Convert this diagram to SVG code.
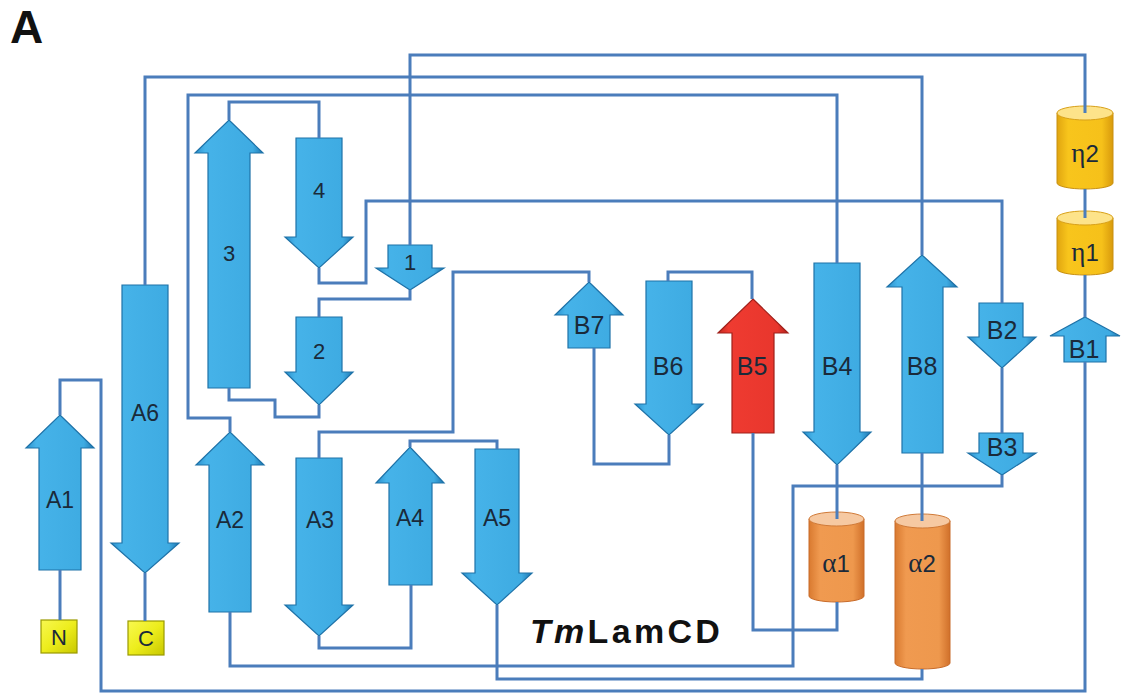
<svg xmlns="http://www.w3.org/2000/svg" width="1124" height="697" viewBox="0 0 1124 697">
<defs>
<linearGradient id="gb" x1="0" y1="0" x2="1" y2="0">
<stop offset="0" stop-color="#2a8fcb"/><stop offset="0.15" stop-color="#46b3e9"/><stop offset="0.85" stop-color="#3eabe2"/><stop offset="1" stop-color="#1f77b0"/>
</linearGradient>
<linearGradient id="gr" x1="0" y1="0" x2="1" y2="0">
<stop offset="0" stop-color="#c42820"/><stop offset="0.15" stop-color="#ef3b31"/><stop offset="0.85" stop-color="#e8362d"/><stop offset="1" stop-color="#b3241d"/>
</linearGradient>
<linearGradient id="go" x1="0" y1="0" x2="1" y2="0">
<stop offset="0" stop-color="#d97a30"/><stop offset="0.2" stop-color="#f09a50"/><stop offset="0.8" stop-color="#ee984d"/><stop offset="1" stop-color="#d0702a"/>
</linearGradient>
<linearGradient id="gy" x1="0" y1="0" x2="1" y2="0">
<stop offset="0" stop-color="#e0a510"/><stop offset="0.2" stop-color="#f8c51c"/><stop offset="0.8" stop-color="#f6c11a"/><stop offset="1" stop-color="#d89a0c"/>
</linearGradient>
<linearGradient id="gn" x1="0" y1="0" x2="1" y2="1">
<stop offset="0" stop-color="#f8f850"/><stop offset="0.5" stop-color="#eded1c"/><stop offset="1" stop-color="#c8c800"/>
</linearGradient>
</defs>
<style>
.ln{fill:none;stroke:#4b7dbb;stroke-width:3;stroke-linejoin:miter}
.sb{fill:url(#gb);stroke:#1e72a8;stroke-width:1.2}
.sr{fill:url(#gr);stroke:#a0201a;stroke-width:1.2}
.co{fill:url(#go);stroke:#c86a28;stroke-width:1}
.cot{fill:#f6c9a2;stroke:#d07a38;stroke-width:1}
.cy{fill:url(#gy);stroke:#c89010;stroke-width:1}
.cyt{fill:#fde38a;stroke:#d8a018;stroke-width:1}
.bx{fill:url(#gn);stroke:#9a9a00;stroke-width:1.2}
.lb{font-family:"Liberation Sans",Arial,sans-serif;font-size:23px;fill:#1a2a3a;text-anchor:middle}
.lbb{font-family:"Liberation Sans",Arial,sans-serif;font-size:25px;fill:#1a2a3a;text-anchor:middle}
.ld{font-family:"Liberation Sans",Arial,sans-serif;font-size:22px;fill:#1a2a3a;text-anchor:middle}
.lg{font-family:"Liberation Sans",Arial,sans-serif;font-size:24px;fill:#1a2a3a;text-anchor:middle}
.gk{font-family:"Liberation Serif","DejaVu Serif",serif;font-size:27px}
</style>

<g id="nodes">
<g id="A1"><polygon class="sb" points="60,415 94,448 81,448 81,570 39,570 39,448 26,448"/><text class="lb" x="60" y="508">A1</text></g>
<g id="s3"><polygon class="sb" points="229,120 263,153 250,153 250,388 208,388 208,153 195,153"/><text class="ld" x="229" y="261">3</text></g>
<g id="A2"><polygon class="sb" points="230,432 264,465 251,465 251,612 209,612 209,465 196,465"/><text class="lb" x="230" y="528">A2</text></g>
<g id="A4"><polygon class="sb" points="410,447 444,483 432,483 432,585 389,585 389,483 376,483"/><text class="lb" x="410" y="526">A4</text></g>
<g id="B7"><polygon class="sb" points="589,282 623,315 610,315 610,348 568,348 568,315 555,315"/><text class="lbb" x="589" y="334">B7</text></g>
<g id="B5"><polygon class="sr" points="753,299 788,333 774,333 774,433 732,433 732,333 718,333"/><text class="lbb" x="752" y="375">B5</text></g>
<g id="B8"><polygon class="sb" points="922,255 957,287 943,287 943,453 902,453 902,287 887,287"/><text class="lbb" x="922" y="375">B8</text></g>
<g id="B1"><polygon class="sb" points="1085,317 1120,336 1106,336 1106,362 1064,362 1064,336 1050,336"/><text class="lbb" x="1084" y="358">B1</text></g>

<g id="A6"><polygon class="sb" points="122,285 168,285 168,543 179,543 145,573 111,543 122,543"/><text class="lb" x="145" y="421">A6</text></g>
<g id="s4"><polygon class="sb" points="296,138 342,138 342,237 353,237 319,268 285,237 296,237"/><text class="ld" x="319" y="198">4</text></g>
<g id="s1"><polygon class="sb" points="388,245 432,245 432,268 444,268 410,290 376,268 388,268"/><text class="ld" x="410" y="270">1</text></g>
<g id="s2"><polygon class="sb" points="296,317 342,317 342,372 353,372 319,405 285,372 296,372"/><text class="ld" x="319" y="359">2</text></g>
<g id="A3"><polygon class="sb" points="296,458 342,458 342,605 353,605 319,636 285,605 296,605"/><text class="lb" x="320" y="528">A3</text></g>
<g id="A5"><polygon class="sb" points="475,449 519,449 519,573 532,573 497,605 462,573 475,573"/><text class="lb" x="497" y="526">A5</text></g>
<g id="B6"><polygon class="sb" points="646,281 692,281 692,404 703,404 669,435 635,404 646,404"/><text class="lbb" x="668" y="375">B6</text></g>
<g id="B4"><polygon class="sb" points="814,263 860,263 860,432 871,432 837,465 803,432 814,432"/><text class="lbb" x="837" y="375">B4</text></g>
<g id="B2"><polygon class="sb" points="979,303 1023,303 1023,337 1036,337 1002,368 968,337 979,337"/><text class="lbb" x="1002" y="339">B2</text></g>
<g id="B3"><polygon class="sb" points="979,433 1023,433 1023,453 1036,453 1002,475 968,453 979,453"/><text class="lbb" x="1002" y="456">B3</text></g>

<g id="eta2"><path class="cy" d="M1057,113 L1057,183 A28,6 0 0 0 1113,183 L1113,113 Z"/><ellipse class="cyt" cx="1085" cy="113" rx="28" ry="7"/><text class="lg" x="1085" y="162"><tspan class="gk">η</tspan>2</text></g>
<g id="eta1"><path class="cy" d="M1057,218 L1057,269 A28,6 0 0 0 1113,269 L1113,218 Z"/><ellipse class="cyt" cx="1085" cy="218" rx="28" ry="7"/><text class="lg" x="1085" y="261"><tspan class="gk">η</tspan>1</text></g>
<g id="alpha1"><path class="co" d="M809,519 L809,596 A27.5,6 0 0 0 864,596 L864,519 Z"/><ellipse class="cot" cx="836.5" cy="519" rx="27.5" ry="7"/><text class="lg" x="836" y="572"><tspan class="gk">α</tspan>1</text></g>
<g id="alpha2"><path class="co" d="M895,521 L895,663 A27.5,6 0 0 0 950,663 L950,521 Z"/><ellipse class="cot" cx="922.5" cy="521" rx="27.5" ry="7"/><text class="lg" x="922" y="572"><tspan class="gk">α</tspan>2</text></g>

<g id="N"><rect class="bx" x="41" y="620" width="36" height="33"/><text class="ld" x="59" y="645">N</text></g>
<g id="C"><rect class="bx" x="128" y="621" width="36" height="34"/><text class="ld" x="146" y="646">C</text></g>
</g>

<g id="connectors">
<polyline class="ln" points="60,415 60,380 101,380 101,691 1085,691 1085,362"/>
<polyline class="ln" points="60,570 60,620"/>
<polyline class="ln" points="145,573 145,621"/>
<polyline class="ln" points="145,285 145,77 922,77 922,255"/>
<polyline class="ln" points="230,432 230,418 188,418 188,95 837,95 837,263"/>
<polyline class="ln" points="230,612 230,666 793,666 793,486 1002,486 1002,475"/>
<polyline class="ln" points="229,120 229,102 319,102 319,138"/>
<polyline class="ln" points="229,388 229,400 275,400 275,417 319,417 319,405"/>
<polyline class="ln" points="319,268 319,283 366,283 366,201 1002,201 1002,303"/>
<polyline class="ln" points="410,245 410,55 1085,55 1085,113"/>
<polyline class="ln" points="410,290 410,299 319,299 319,317"/>
<polyline class="ln" points="319,458 319,432 453,432 453,272 589,272 589,282"/>
<polyline class="ln" points="319,636 319,648 411,648 411,585"/>
<polyline class="ln" points="410,447 410,441 497,441 497,449"/>
<polyline class="ln" points="497,605 497,679 922,679 922,669"/>
<polyline class="ln" points="594,348 594,464 669,464 669,435"/>
<polyline class="ln" points="668,281 668,272 752,272 752,299"/>
<polyline class="ln" points="753,433 753,630 837,630 837,602"/>
<polyline class="ln" points="837,465 837,519"/>
<polyline class="ln" points="922,453 922,521"/>
<polyline class="ln" points="1002,368 1002,433"/>
<polyline class="ln" points="1085,189 1085,218"/>
<polyline class="ln" points="1085,275 1085,317"/>
</g>

<text x="10" y="43" font-family="Liberation Sans,Arial,sans-serif" font-weight="bold" font-size="46" fill="#111">A</text>
<text x="530" y="643" font-family="Liberation Sans,Arial,sans-serif" font-weight="bold" font-size="34" letter-spacing="3.3" fill="#111"><tspan font-style="italic">Tm</tspan>LamCD</text>
</svg>
